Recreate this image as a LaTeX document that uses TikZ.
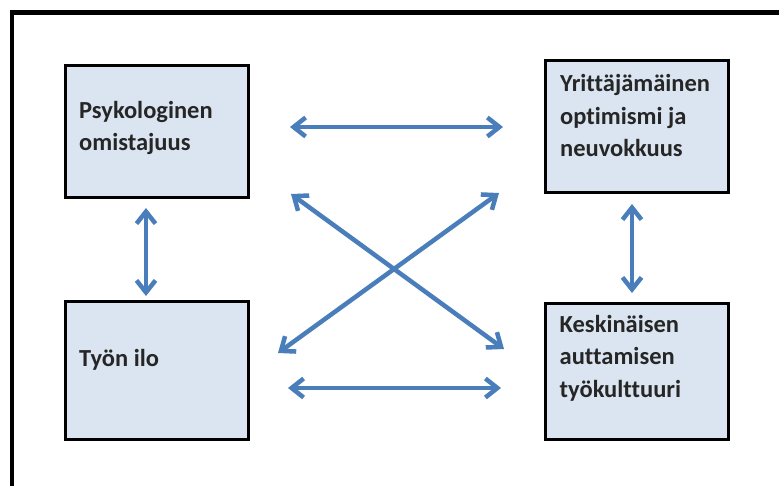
\documentclass[tikz,border=0pt]{standalone}
\usepackage{fontspec}
\setmainfont{Carlito}[Ligatures=NoCommon,RawFeature={-liga}]
\usetikzlibrary{arrows.meta}
\definecolor{boxfill}{HTML}{DBE5F1}
\definecolor{arrowblue}{HTML}{4A7EBB}
\definecolor{txt}{HTML}{262626}
\tikzset{
  box/.style={draw=black, line width=2.6pt, fill=boxfill, rectangle, anchor=north west, inner sep=0pt},
  lbl/.style={text=txt, align=left, anchor=base west, inner sep=0pt, font=\bfseries\fontsize{24.5}{32.3}\selectfont},
  link/.style={draw=arrowblue, line width=4.5pt, {Straight Barb[length=12pt,width=19pt]}-{Straight Barb[length=12pt,width=19pt]}}
}
\begin{document}
\begin{tikzpicture}[x=1pt,y=-1pt]
\useasboundingbox (0,0) rectangle (779,485);
\clip (0,0) rectangle (779,485);
% frame
\draw[line width=4.2pt, line join=miter] (12,490) -- (12,12.5) -- (785,12.5);
% boxes
\node[box, minimum width=183pt, minimum height=132pt] (b1) at (64,64) {};
\node[box, minimum width=183pt, minimum height=132pt] (b2) at (544,59) {};
\node[box, minimum width=183pt, minimum height=138pt] (b3) at (64,300) {};
\node[box, minimum width=183pt, minimum height=136pt] (b4) at (544,302) {};
% labels (anchored at the baseline of the last line)
\node[lbl] (t1) at (79,150.7) {Psykologinen\\omistajuus};
\node[lbl] (t2) at (560,156.3) {Yrittäjämäinen\\optimismi ja\\neuvokkuus};
\node[lbl] (t3) at (79,366) {Työn ilo};
\node[lbl] (t4) at (559.5,397) {Keskinäisen\\auttamisen\\työkulttuuri};
% arrow end points
\coordinate (h1a) at (290,127);
\coordinate (h1b) at (503,127);
\coordinate (h2a) at (288,388);
\coordinate (h2b) at (501,388);
\coordinate (d1a) at (291,194);
\coordinate (d1b) at (504,349);
\coordinate (d2a) at (278,353);
\coordinate (d2b) at (499,193);
\coordinate (v1a) at (146,208);
\coordinate (v1b) at (146,296);
\coordinate (v2a) at (632,204);
\coordinate (v2b) at (632,293);
% arrows
\draw[link] (h1a) -- (h1b);
\draw[link] (h2a) -- (h2b);
\draw[link] (d1a) -- (d1b);
\draw[link] (d2a) -- (d2b);
\draw[link] (v1a) -- (v1b);
\draw[link] (v2a) -- (v2b);
\end{tikzpicture}
\end{document}
